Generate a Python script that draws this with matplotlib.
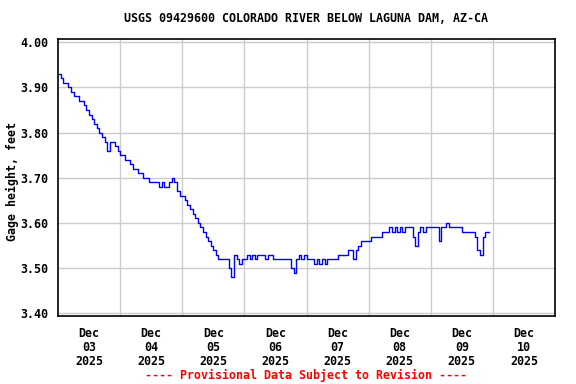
import matplotlib
matplotlib.use("Agg")
import matplotlib.pyplot as plt
import matplotlib.dates as mdates
import numpy as np
import pandas as pd

title = "USGS 09429600 COLORADO RIVER BELOW LAGUNA DAM, AZ-CA"
ylabel = "Gage height, feet"
footer = "---- Provisional Data Subject to Revision ----"

start_time = "2025-12-03 00:00"
# hourly gage height readings (feet)
gage_height = [
    3.93, 3.92, 3.91, 3.91, 3.90, 3.89, 3.88, 3.88, 3.87, 3.87,
    3.86, 3.85, 3.84, 3.83, 3.82, 3.81, 3.80, 3.79, 3.78, 3.76,
    3.78, 3.78, 3.77, 3.76, 3.75, 3.75, 3.74, 3.74, 3.73, 3.72,
    3.72, 3.71, 3.71, 3.70, 3.70, 3.69, 3.69, 3.69, 3.69, 3.68,
    3.69, 3.68, 3.68, 3.69, 3.70, 3.69, 3.67, 3.66, 3.66, 3.65,
    3.64, 3.63, 3.62, 3.61, 3.60, 3.59, 3.58, 3.57, 3.56, 3.55,
    3.54, 3.53, 3.52, 3.52, 3.52, 3.52, 3.50, 3.48, 3.53, 3.52,
    3.51, 3.52, 3.52, 3.53, 3.52, 3.53, 3.52, 3.53, 3.53, 3.53,
    3.52, 3.53, 3.53, 3.52, 3.52, 3.52, 3.52, 3.52, 3.52, 3.52,
    3.50, 3.49, 3.52, 3.53, 3.52, 3.53, 3.52, 3.52, 3.52, 3.51,
    3.52, 3.51, 3.52, 3.51, 3.52, 3.52, 3.52, 3.52, 3.53, 3.53,
    3.53, 3.53, 3.54, 3.54, 3.52, 3.54, 3.55, 3.56, 3.56, 3.56,
    3.56, 3.57, 3.57, 3.57, 3.57, 3.58, 3.58, 3.58, 3.59, 3.58,
    3.59, 3.58, 3.59, 3.58, 3.59, 3.59, 3.59, 3.57, 3.55, 3.58,
    3.59, 3.58, 3.59, 3.59, 3.59, 3.59, 3.59, 3.56, 3.59, 3.59,
    3.60, 3.59, 3.59, 3.59, 3.59, 3.59, 3.58, 3.58, 3.58, 3.58,
    3.58, 3.57, 3.54, 3.53, 3.57, 3.58, 3.58,
]

y_ticks = [3.40, 3.50, 3.60, 3.70, 3.80, 3.90, 4.00]
day_labels = ["Dec\n03\n2025", "Dec\n04\n2025", "Dec\n05\n2025", "Dec\n06\n2025",
              "Dec\n07\n2025", "Dec\n08\n2025", "Dec\n09\n2025", "Dec\n10\n2025"]

times = pd.date_range(start_time, periods=len(gage_height), freq="h")
t_num = mdates.date2num(times.to_pydatetime())
t_num = np.append(t_num, t_num[-1] + 1 / 24 * 0.6)
vals = np.append(gage_height, gage_height[-1])

font = "DejaVu Sans Mono"
fs = 8.4

fig = plt.figure(figsize=(5.76, 3.84), dpi=100)
ax = fig.add_axes([58 / 576, 1 - 315.7 / 384, (555 - 58) / 576, (315.7 - 39.3) / 384])

ax.plot(t_num, vals, drawstyle="steps-post", color="#0000ff", lw=1.0)

day0 = mdates.date2num(pd.Timestamp(start_time).to_pydatetime())
ax.set_xlim(day0, day0 + 8)
ax.set_ylim(3.3947, 4.0065)

ax.set_xticks([day0 + i for i in range(1, 8)])
ax.set_xticklabels([])
ax.set_xticks([day0 + i + 0.5 for i in range(len(day_labels))], minor=True)
ax.set_xticklabels(day_labels, minor=True, fontfamily=font, fontweight="bold",
                   fontsize=fs, linespacing=1.1)
ax.set_yticks(y_ticks)
ax.set_yticklabels([f"{v:.2f}" for v in y_ticks], fontfamily=font,
                   fontweight="bold", fontsize=fs)
ax.tick_params(axis="both", which="both", length=0)
ax.tick_params(axis="x", which="minor", pad=8)
ax.tick_params(axis="y", pad=7)

ax.grid(True, which="major", color="#cccccc", lw=1.0)
ax.set_axisbelow(True)
for sp in ax.spines.values():
    sp.set_linewidth(1.2)
    sp.set_color("black")

fig.text(12 / 576, 1 - 182 / 384, ylabel, rotation=90, ha="center", va="center",
         fontfamily=font, fontweight="bold", fontsize=fs)
fig.text(306 / 576, 1 - 19 / 384, title, ha="center", va="center",
         fontfamily=font, fontweight="bold", fontsize=fs)
fig.text(306 / 576, 1 - 375 / 384, footer, ha="center", va="center",
         fontfamily=font, fontweight="bold", fontsize=fs, color="#ff0000")

fig.savefig("out.png", dpi=100)
